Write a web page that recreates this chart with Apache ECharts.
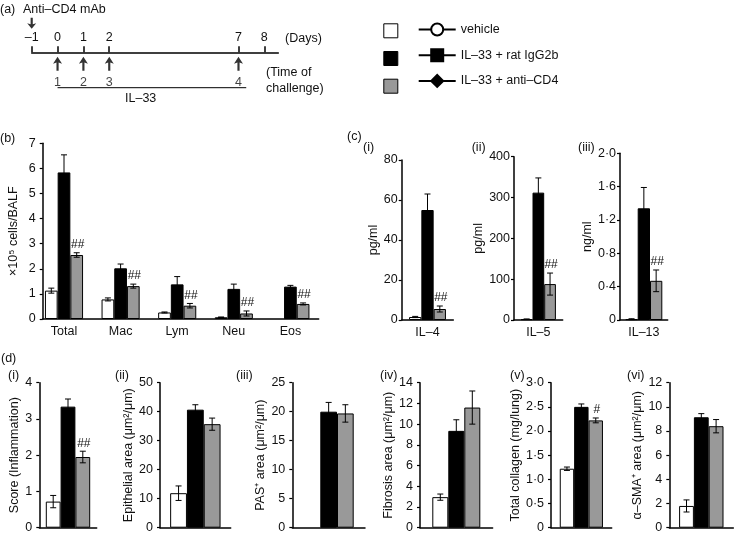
<!DOCTYPE html>
<html><head><meta charset="utf-8">
<script src="https://cdn.jsdelivr.net/npm/echarts@6/dist/echarts.min.js"></script>
<style>html,body{margin:0;padding:0;background:#fff}#c{width:735px;height:536px}</style>
</head><body><div id="c"></div>
<script>
// ================= DATA =================
const groups = ['vehicle', 'IL–33 + rat IgG2b', 'IL–33 + anti–CD4'];

// (a) timeline schematic
const dayTicks = [-1, 0, 1, 2, 7, 8];
const antiCD4Day = [-1];
const challengeDays = [0, 1, 2, 7];
const challengeNums = [1, 2, 3, 4];
const il33Period = [0, 7.3];

// (b) BALF cells
const bCats = ['Total', 'Mac', 'Lym', 'Neu', 'Eos'];
const bVehicle = [1.13, 0.78, 0.26, 0.07, null];
const bVehicleErr = [0.1, 0.06, 0.02, 0.01, null];
const bIgG = [5.84, 2.02, 1.38, 1.2, 1.29];
const bIgGErr = [0.7, 0.17, 0.31, 0.19, 0.05];
const bCD4 = [2.55, 1.31, 0.53, 0.22, 0.6];
const bCD4Err = [0.09, 0.08, 0.09, 0.1, 0.04];
const bSig = ['##', '##', '##', '##', '##'];
const bMax = 7, bStep = 1, bName = '×10⁵ cells/BALF';

// (c) cytokines: [vehicle, IgG2b, anti-CD4]
const cCats = ['IL–4', 'IL–5', 'IL–13'];
const cIL4 = [1.5, 55, 5.5], cIL4Err = [0.3, 8, 1.5];
const cIL5 = [2, 312, 88], cIL5Err = [0.5, 36, 27];
const cIL13 = [0.01, 1.34, 0.47], cIL13Err = [0.005, 0.25, 0.13];
const cSig = ['##', '##', '##'];
const cMax = [80, 400, 2.0], cStep = [20, 100, 0.4];
const cNames = ['pg/ml', 'pg/ml', 'ng/ml'];

// (d) histology: [vehicle, IgG2b, anti-CD4]
const dScore = [0.72, 3.34, 1.95], dScoreErr = [0.17, 0.21, 0.16];
const dEpi = [11.9, 40.7, 35.7], dEpiErr = [2.5, 1.7, 2.1];
const dPAS = [null, 20.0, 19.7], dPASErr = [null, 1.6, 1.5];
const dFib = [2.95, 9.35, 11.6], dFibErr = [0.3, 1.07, 1.6];
const dCol = [1.22, 2.50, 2.22], dColErr = [0.035, 0.06, 0.05];
const dSMA = [1.8, 9.14, 8.4], dSMAErr = [0.5, 0.3, 0.55];
const dSig = ['##', '', '', '', '#', ''];
const dMax = [4, 50, 25, 14, 3.0, 12], dStep = [1, 10, 5, 2, 0.5, 2];
const dNames = ['Score (Inflammation)', 'Epithelial area (μm²/μm)', 'PAS⁺ area (μm²/μm)',
  'Fibrosis area (μm²/μm)', 'Total collagen (mg/lung)', 'α–SMA⁺ area (μm²/μm)'];

// ================= STYLE / LAYOUT =================
const FONT = '"Liberation Sans", Arial, Helvetica, sans-serif';
const FS = 12.5;
const TXT = '#111';
const barStyles = [
  {color: '#ffffff', borderColor: '#000', borderWidth: 1},
  {color: '#000000', borderColor: '#000', borderWidth: 1},
  {color: '#999999', borderColor: '#000', borderWidth: 1}
];
const one = (arr) => groups.map((g, k) => [arr[k]]);

const panels = [
  {cats: bCats, vals: [bVehicle, bIgG, bCD4], errs: [bVehicleErr, bIgGErr, bCD4Err], sig: bSig,
   max: bMax, step: bStep, name: bName, dot: false, showCats: true,
   lay: {left: 35.7, top: 143.3, width: 283, height: 175.7, barW: 12.7, axisLeft: 42.7, gap: 23, margin: 7}},
  {cats: [cCats[0]], vals: one(cIL4), errs: one(cIL4Err), sig: [cSig[0]], max: cMax[0], step: cStep[0], name: cNames[0], dot: false, showCats: true,
   lay: {left: 401.7, top: 160, width: 51.6, height: 160, barW: 12.3, gap: 20, margin: 4}},
  {cats: [cCats[1]], vals: one(cIL5), errs: one(cIL5Err), sig: [cSig[1]], max: cMax[1], step: cStep[1], name: cNames[1], dot: false, showCats: true,
   lay: {left: 514, top: 156.7, width: 48.7, height: 163.3, barW: 11.7, gap: 26, margin: 4}},
  {cats: [cCats[2]], vals: one(cIL13), errs: one(cIL13Err), sig: [cSig[2]], max: cMax[2], step: cStep[2], name: cNames[2], dot: true, showCats: true,
   lay: {left: 620, top: 153.3, width: 47.7, height: 166.7, barW: 12.3, gap: 24, margin: 4}}
];
const dVals = [dScore, dEpi, dPAS, dFib, dCol, dSMA];
const dErrs = [dScoreErr, dEpiErr, dPASErr, dFibErr, dColErr, dSMAErr];
const dLay = [
  {left: 39.3, width: 57.4, barW: 14.8, gap: 18},
  {left: 160, width: 70.7, barW: 16.8, gap: 24},
  {left: 292.3, width: 72.7, barW: 16.7, gap: 19.5},
  {left: 420, width: 72.6, barW: 16, gap: 19.5},
  {left: 551, width: 60.7, barW: 14.4, gap: 28.5},
  {left: 669.3, width: 64, barW: 14.8, gap: 21}
];
dVals.forEach((v, i) => panels.push({
  cats: [''], vals: one(v), errs: one(dErrs[i]), sig: [dSig[i]], max: dMax[i], step: dStep[i], name: dNames[i],
  dot: (i === 4), showCats: false,
  lay: Object.assign({top: 382.7, height: 145, margin: 7}, dLay[i])
}));

// ================= BUILD =================
const grids = [], xAxes = [], yAxes = [], series = [];
const axisLineStyle = {color: '#000', width: 1.5};
const labelStyle = {color: TXT, fontSize: FS, fontFamily: FONT};

// timeline (a)
grids.push({left: 31.7, top: 52.3, width: 246.6, height: 46, containLabel: false, outerBoundsMode: 'none'});
xAxes.push({gridIndex: 0, type: 'value', min: -1, max: 8.54, position: 'top',
  axisLine: {show: true, onZero: false, lineStyle: axisLineStyle},
  axisTick: {show: true, customValues: dayTicks, length: 6, lineStyle: {color: '#000', width: 1.5}},
  axisLabel: Object.assign({customValues: dayTicks, margin: 8, formatter: v => v < 0 ? '–' + Math.abs(v) : String(v)}, labelStyle),
  splitLine: {show: false}});
yAxes.push({gridIndex: 0, type: 'value', min: 0, max: 46, inverse: true, show: false});

// legend helper line series (first so legend uses their icons)
const legendSymbols = ['circle', 'rect', 'diamond'];
groups.forEach((g, k) => series.push({
  type: 'line', name: g, xAxisIndex: 0, yAxisIndex: 0, data: [], symbol: legendSymbols[k],
  itemStyle: {color: k === 0 ? '#fff' : '#000', borderColor: '#000', borderWidth: 1},
  lineStyle: {color: '#000', width: 1}
}));

const upArrow = 'path://M5,0 L10,8 L6.2,6.5 L6.2,16 L3.8,16 L3.8,6.5 L0,8 Z';
const downArrow = 'path://M5,16 L10,8 L6.2,9.5 L6.2,0 L3.8,0 L3.8,9.5 L0,8 Z';
series.push({type: 'scatter', xAxisIndex: 0, yAxisIndex: 0, clip: false, silent: true,
  data: challengeDays.map(d => [d, 11.4]), symbol: upArrow, symbolSize: [9, 14],
  itemStyle: {color: '#000'},
  label: {show: true, position: 'bottom', distance: 5, formatter: p => String(challengeNums[p.dataIndex]),
    color: TXT, fontSize: FS, fontFamily: FONT}});
series.push({type: 'scatter', xAxisIndex: 0, yAxisIndex: 0, clip: false, silent: true,
  data: antiCD4Day.map(d => [d, -29]), symbol: downArrow, symbolSize: [9, 11], itemStyle: {color: '#000'}});
series.push({type: 'line', xAxisIndex: 0, yAxisIndex: 0, clip: false, silent: true, symbol: 'none',
  data: il33Period.map(d => [d, 35.4]), lineStyle: {color: '#000', width: 1}});

function yAxisBase(p, gi, show) {
  const fmt = p.dot ? (v => v === 0 ? '0' : v.toFixed(1).replace('.', '·')) : (v => String(v));
  return {gridIndex: gi, type: 'value', min: 0, max: p.max, interval: p.step, show: show,
    axisLine: {show: true, lineStyle: axisLineStyle},
    axisTick: {show: true, length: 3, lineStyle: {color: '#000', width: 1.2}},
    axisLabel: Object.assign({margin: p.lay.margin, formatter: fmt}, labelStyle),
    splitLine: {show: false},
    name: p.name, nameLocation: 'middle', nameGap: p.lay.gap,
    nameTextStyle: {color: TXT, fontSize: FS, fontFamily: FONT}};
}

panels.forEach(p => {
  const L = p.lay;
  const gi = grids.length;
  const split = L.axisLeft !== undefined;
  grids.push({left: L.left, top: L.top, width: L.width, height: L.height, containLabel: false, outerBoundsMode: 'none'});
  const xi = xAxes.length;
  xAxes.push({gridIndex: gi, type: 'category', data: p.cats,
    axisLine: {show: !split, onZero: false, lineStyle: axisLineStyle}, axisTick: {show: false},
    axisLabel: Object.assign({show: p.showCats, margin: 6}, labelStyle), splitLine: {show: false}});
  const yi = yAxes.length;
  yAxes.push(yAxisBase(p, gi, !split));
  if (split) {
    const gj = grids.length;
    const right = L.left + L.width;
    grids.push({left: L.axisLeft, top: L.top, width: right - L.axisLeft, height: L.height, containLabel: false, outerBoundsMode: 'none'});
    xAxes.push({gridIndex: gj, type: 'value', min: 0, max: 1,
      axisLine: {show: true, onZero: false, lineStyle: axisLineStyle}, axisTick: {show: false},
      axisLabel: {show: false}, splitLine: {show: false}});
    yAxes.push(yAxisBase(p, gj, true));
  }
  groups.forEach((g, k) => series.push({
    type: 'bar', name: g, xAxisIndex: xi, yAxisIndex: yi, data: p.vals[k],
    barWidth: L.barW, barGap: '0%', itemStyle: barStyles[k], silent: true
  }));
  const items = [];
  p.cats.forEach((c, ci) => groups.forEach((g, k) => {
    const v = p.vals[k][ci], e = p.errs[k][ci];
    if (v == null) return;
    items.push({value: [ci, k, v, e], sig: k === 2 ? p.sig[ci] : ''});
  }));
  series.push({
    type: 'custom', xAxisIndex: xi, yAxisIndex: yi, clip: false, z: 5, silent: true,
    data: items.map(d => d.value),
    renderItem: (params, api) => {
      const it = items[params.dataIndex];
      const [ci, k, v, e] = it.value;
      const c = api.coord([ci, v]);
      const x = c[0] + (k - 1) * L.barW;
      const yT = api.coord([ci, v + e])[1];
      const yB = api.coord([ci, Math.max(0, v - e)])[1];
      const cap = 3;
      const st = {stroke: '#000', lineWidth: 1};
      const ch = [
        {type: 'line', shape: {x1: x, y1: yT, x2: x, y2: yB}, style: st},
        {type: 'line', shape: {x1: x - cap, y1: yT, x2: x + cap, y2: yT}, style: st},
        {type: 'line', shape: {x1: x - cap, y1: yB, x2: x + cap, y2: yB}, style: st}
      ];
      if (it.sig) ch.push({type: 'text', style: {text: it.sig, x: x + 1, y: yT - 2, align: 'center', verticalAlign: 'bottom',
        fill: TXT, fontSize: 12, fontFamily: FONT}});
      return {type: 'group', children: ch};
    }
  });
});

// text labels
const texts = [
  ['(a)', 0, 1], ['Anti–CD4 mAb', 23, 1], ['(Days)', 285, 30], ['(Time of\nchallenge)', 266, 64], ['IL–33', 125, 90],
  ['(b)', 0, 130], ['(c)', 347, 128], ['(i)', 363, 139], ['(ii)', 471.7, 139], ['(iii)', 578, 139],
  ['(d)', 1, 350], ['(i)', 8, 367], ['(ii)', 115, 367], ['(iii)', 236, 367], ['(iv)', 380, 367], ['(v)', 510, 367], ['(vi)', 627, 367]
];
const titles = texts.map(t => ({text: t[0], left: t[1], top: t[2], padding: 0,
  textStyle: {color: TXT, fontSize: FS, fontWeight: 'normal', fontFamily: FONT, lineHeight: 16.6}}));

const option = {
  animation: false,
  backgroundColor: '#fff',
  title: titles,
  legend: [
    {orient: 'vertical', left: 378.3, top: 18.3, itemWidth: 14, itemHeight: 14, itemGap: 12.7, selectedMode: false,
     formatter: () => '', textStyle: {fontSize: 1},
     data: groups.map((g, k) => ({name: g, icon: 'rect', itemStyle: barStyles[k]}))},
    {orient: 'vertical', left: 412.7, top: 17.5, itemWidth: 37, itemHeight: 15, itemGap: 11.7, selectedMode: false,
     data: groups, textStyle: {color: TXT, fontSize: FS, fontFamily: FONT}}
  ],
  grid: grids, xAxis: xAxes, yAxis: yAxes, series: series
};
const chart = echarts.init(document.getElementById('c'), null, {renderer: 'canvas'});
chart.setOption(option);
</script></body></html>
